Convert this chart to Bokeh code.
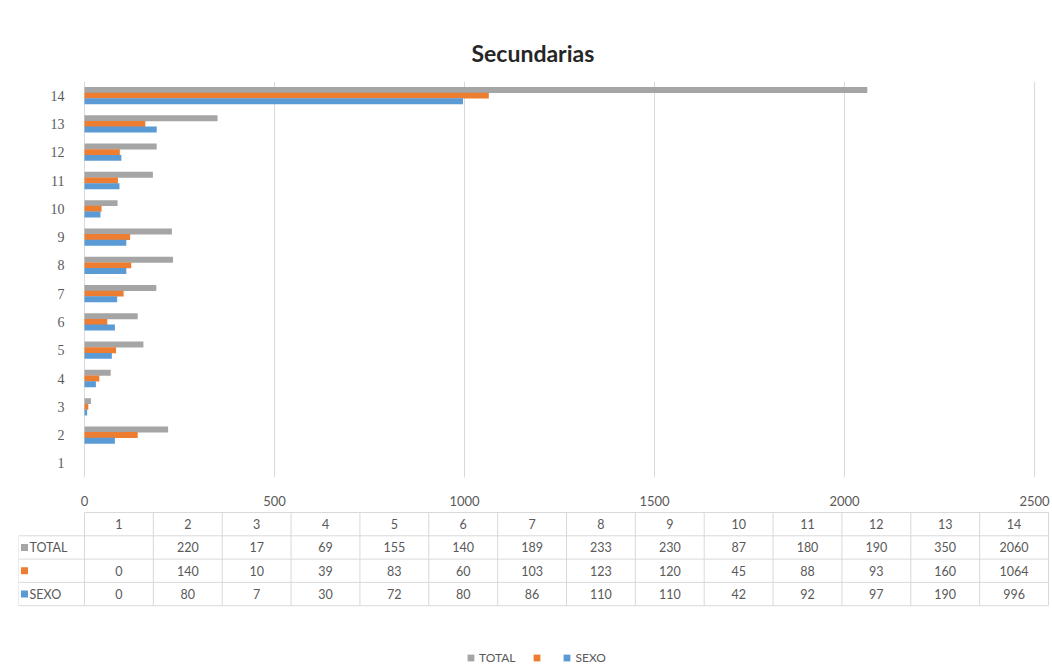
from bokeh.plotting import figure
from bokeh.models import (ColumnDataSource, FixedTicker, Range1d, Legend, LegendItem, Title)
from bokeh.transform import dodge
from bokeh.layouts import column
from bokeh.core.properties import value
from bokeh.embed import file_html
from bokeh.resources import INLINE

# ---------------- data ----------------
categorias = [1, 2, 3, 4, 5, 6, 7, 8, 9, 10, 11, 12, 13, 14]
total = [None, 220, 17, 69, 155, 140, 189, 233, 230, 87, 180, 190, 350, 2060]
sin_nombre = [0, 140, 10, 39, 83, 60, 103, 123, 120, 45, 88, 93, 160, 1064]
sexo = [0, 80, 7, 30, 72, 80, 86, 110, 110, 42, 92, 97, 190, 996]
series_nombres = ["TOTAL", "", "SEXO"]
x_ticks = [0, 500, 1000, 1500, 2000, 2500]
titulo = "Secundarias"

C_GRAY = "#a5a5a5"
C_ORANGE = "#ed7d31"
C_BLUE = "#5b9bd5"
TXT = "#595959"
GRID = "#d9d9d9"

nan = float("nan")
src = ColumnDataSource(dict(
    cat=categorias,
    total=[nan if v is None else v for v in total],
    sin_nombre=sin_nombre,
    sexo=sexo,
))

W = 1052
H1 = 508
H2 = 156
FL = 18                       # frame left (both figures)
AX0, AX1 = 84, 1034           # pixel positions of 0 and 2500 on the value axis
scale = (AX1 - AX0) / (x_ticks[-1] - x_ticks[0])

# ---------------- chart ----------------
p = figure(width=W, height=H1, output_backend="svg", toolbar_location=None,
           x_range=Range1d(-(AX0 - FL) / scale, x_ticks[-1] + (W - AX1) / scale),
           y_range=Range1d(0.5, 14.5),
           min_border_left=FL, min_border_right=0, min_border_bottom=30,
           min_border_top=81)
p.title = Title(text=titulo, align="left", offset=471 - FL, standoff=30,
                text_font="Lato", text_font_size="23px",
                text_font_style="bold", text_color="#262626")
p.outline_line_color = None
p.background_fill_color = "white"

bw = 0.21
for off, field, col in [(0.2, "total", C_GRAY), (0.0, "sin_nombre", C_ORANGE),
                        (-0.2, "sexo", C_BLUE)]:
    p.hbar(y=dodge("cat", off, range=p.y_range), right=field, height=bw, left=0,
           source=src, fill_color=col, line_color=None)

p.yaxis.ticker = FixedTicker(ticks=categorias)
p.yaxis.axis_line_color = None
p.yaxis.major_tick_line_color = None
p.yaxis.minor_tick_line_color = None
p.yaxis.major_label_standoff = -(70 - FL)
p.yaxis.major_label_text_font = "Liberation Serif"
p.yaxis.major_label_text_font_size = "14px"
p.yaxis.major_label_text_color = TXT

p.xaxis.ticker = FixedTicker(ticks=x_ticks)
p.xaxis.axis_line_color = None
p.xaxis.major_tick_line_color = None
p.xaxis.minor_tick_line_color = None
p.xaxis.major_label_standoff = 12
p.xaxis.major_label_text_font = "Lato"
p.xaxis.major_label_text_font_size = "13px"
p.xaxis.major_label_text_color = TXT

p.ygrid.grid_line_color = None
p.xgrid.grid_line_color = GRID
p.xgrid.ticker = FixedTicker(ticks=x_ticks)

# ---------------- data table ----------------
n = len(categorias)
right_px = 1048
cw = (right_px - AX0) / n
top_px = 4
rh = 23.3
lab_left = (18 - AX0) / cw

t = figure(width=W, height=H2, output_backend="svg", toolbar_location=None,
           x_range=Range1d((FL - AX0) / cw, (W - AX0) / cw),
           y_range=Range1d((H2 - top_px) / rh, -top_px / rh),
           min_border=0, min_border_left=FL, min_border_right=0,
           x_axis_type=None, y_axis_type=None)
t.outline_line_color = None
t.xgrid.visible = False
t.ygrid.visible = False

# grid of the table
hx0 = [0] + [lab_left] * 4
hx1 = [n] * 5
hy = [0, 1, 2, 3, 4]
t.segment(x0=hx0, y0=hy, x1=hx1, y1=hy, line_color=GRID, line_width=1)
vx = list(range(n + 1)) + [lab_left]
vy0 = [0] * (n + 1) + [1]
vy1 = [4] * (n + 2)
t.segment(x0=vx, y0=vy0, x1=vx, y1=vy1, line_color=GRID, line_width=1)

col_x = [i + 0.5 for i in range(n)]
tfont = "Lato"
tsize = "12.5px"
t.text(x=col_x, y=[0.5] * n, text=[str(c) for c in categorias],
       text_align="center", text_baseline="middle", text_font=value(tfont),
       text_font_size=tsize, text_color=TXT)
for r, serie in enumerate([total, sin_nombre, sexo]):
    t.text(x=col_x, y=[1.5 + r] * n, text=["" if v is None else str(v) for v in serie],
           text_align="center", text_baseline="middle", text_font=value(tfont),
           text_font_size=tsize, text_color=TXT)

sq_x = (24 - AX0) / cw
lbl_x = (29 - AX0) / cw
markers = []
for r, (col, name) in enumerate(zip([C_GRAY, C_ORANGE, C_BLUE], series_nombres)):
    m = t.scatter(x=[sq_x], y=[1.5 + r], marker="square", size=7,
                  fill_color=col, line_color=None)
    markers.append(m)
    if name:
        t.text(x=[lbl_x], y=[1.5 + r], text=[name], text_align="left",
               text_baseline="middle", text_font=value(tfont),
               text_font_size=tsize, text_color=TXT)

legend = Legend(items=[LegendItem(label=value(nm), renderers=[m])
                       for nm, m in zip(series_nombres, markers)],
                orientation="horizontal", location=(462 - FL, -2),
                glyph_width=17, glyph_height=17, label_standoff=0, spacing=13,
                label_width=0, padding=0, margin=0, border_line_color=None,
                background_fill_alpha=0, label_text_font="Lato",
                label_text_font_size="12px", label_text_color=TXT)
t.add_layout(legend, "center")

layout = column(p, t, spacing=0)
open("out.html", "w").write(file_html(layout, INLINE))
